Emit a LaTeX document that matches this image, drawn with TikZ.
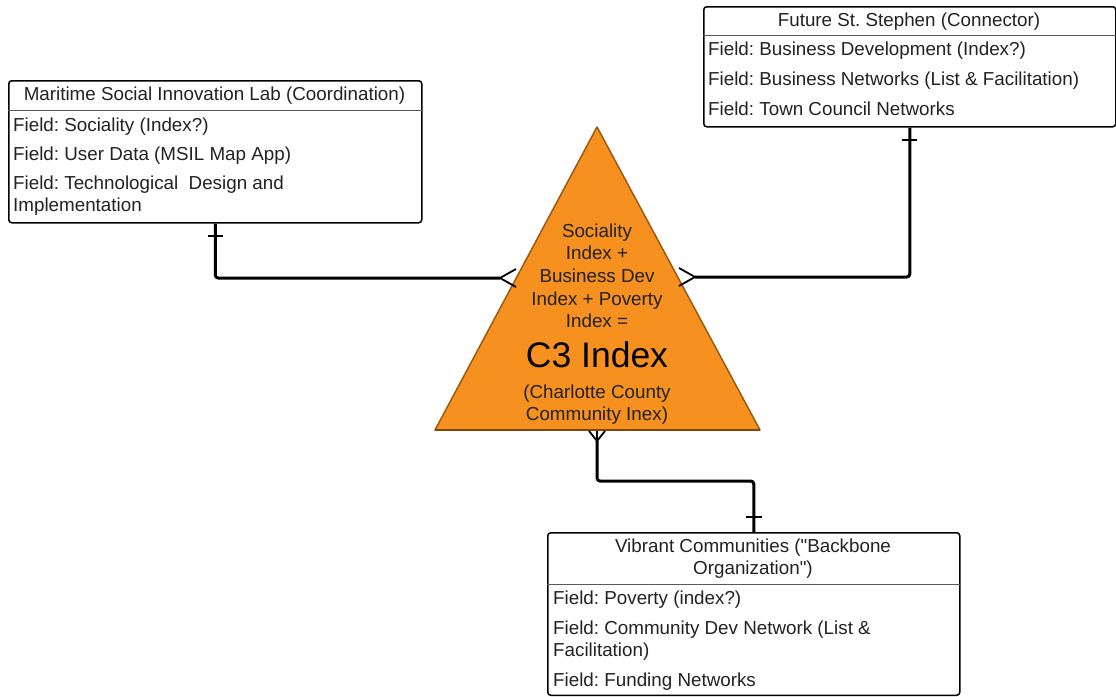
\documentclass[tikz,border=0pt]{standalone}
\usepackage{fontspec}
\setmainfont[Ligatures=TeXOff]{Liberation Sans}
\definecolor{triorange}{HTML}{F6901E}
\definecolor{triedge}{HTML}{9C5A12}
\definecolor{txt}{HTML}{222222}
\begin{document}
\frenchspacing
\begin{tikzpicture}[x=1pt,y=-1pt]
\tikzset{
 ent/.style={draw=black, line width=1.5pt, rounded corners=3pt, fill=white, inner sep=0pt},
 sep/.style={draw=black!65, line width=0.8pt},
 fld/.style={anchor=base west, inner sep=0pt, font=\fontsize{18.8}{23}\selectfont, text=txt},
 ttl/.style={anchor=base, inner sep=0pt, font=\fontsize{18.8}{23}\selectfont, text=txt},
 tritxt/.style={anchor=base, inner sep=0pt, font=\fontsize{18.8}{23}\selectfont, text=txt},
 conn/.style={line width=3pt, rounded corners=3pt},
 tickmark/.style={line width=2pt},
 crow/.style={line width=1.8pt},
}
\useasboundingbox (0,0) rectangle (1116,696);
\fill[white] (0,0) rectangle (1116,696);

% ---- Maritime Social Innovation Lab box
\node[ent, anchor=north west, minimum width=413pt, minimum height=142pt] (msil) at (8,80) {};
\draw[sep] (msil.west |- 0,110) -- (msil.east |- 0,110);
\node[ttl] (msilt) at (214.5,100.7) {Maritime Social Innovation Lab (Coordination)};
\node[fld] (msil1) at (13,131) {Field: Sociality (Index?)};
\node[fld] (msil2) at (13,160) {Field: User Data (MSIL Map App)};
\node[fld] (msil3) at (13,189) {Field: Technological\ \ Design and};
\node[fld] (msil4) at (13,211) {Implementation};

% ---- Future St. Stephen box
\node[ent, anchor=north west, minimum width=412pt, minimum height=120pt] (fss) at (703,6) {};
\draw[sep] (fss.west |- 0,35) -- (fss.east |- 0,35);
\node[ttl] (fsst) at (909,27) {Future St. Stephen (Connector)};
\node[fld] (fss1) at (708,55) {Field: Business Development (Index?)};
\node[fld] (fss2) at (708,85) {Field: Business Networks (List \& Facilitation)};
\node[fld] (fss3) at (708,115) {Field: Town Council Networks};

% ---- Vibrant Communities box
\node[ent, anchor=north west, minimum width=412pt, minimum height=162.5pt] (vc) at (547,532) {};
\draw[sep] (vc.west |- 0,584) -- (vc.east |- 0,584);
\node[ttl] (vct1) at (753,552) {Vibrant Communities ("Backbone};
\node[ttl] (vct2) at (753,574) {Organization")};
\node[fld] (vc1) at (553,604) {Field: Poverty (index?)};
\node[fld] (vc2) at (553,634) {Field: Community Dev Network (List \&};
\node[fld] (vc3) at (553,656) {Facilitation)};
\node[fld] (vc4) at (553,686) {Field: Funding Networks};

% ---- Triangle
\coordinate (apex) at (597,127);
\coordinate (bl) at (435,430);
\coordinate (br) at (760,430);
\fill[triorange, draw=triedge, line width=1.5pt, line join=round] (apex) -- (br) -- (bl) -- cycle;
\draw[triedge!80!black, line width=2pt] (bl) -- (br);

\node[tritxt] (t1) at (597,237) {Sociality};
\node[tritxt] (t2) at (597,259) {Index +};
\node[tritxt] (t3) at (597,282) {Business Dev};
\node[tritxt] (t4) at (597,305) {Index + Poverty};
\node[tritxt] (t5) at (597,327) {Index =};
\node[tritxt, font=\fontsize{35.5}{40}\selectfont, text=black] (t6) at (597,367) {C3 Index};
\node[tritxt] (t7) at (597,398) {(Charlotte County};
\node[tritxt] (t8) at (597,420) {Community Inex)};

% ---- crow's feet end points
\coordinate (cl) at (500,278);
\coordinate (cr) at (695,277);
\coordinate (cb) at (597,441);

% ---- connectors
\draw[conn] (msil.south) -- (msil.south |- cl) -- (cl);
\draw[conn] (fss.south) -- (fss.south |- cr) -- (cr);
\draw[conn] (cb) -- (597,481) -- (vc.north |- 0,481) -- (vc.north);

% ---- one ticks
\draw[tickmark] ([xshift=-7.5pt]msil.south |- 0,236) -- ([xshift=7.5pt]msil.south |- 0,236);
\draw[tickmark] ([xshift=-7.5pt]fss.south |- 0,140) -- ([xshift=7.5pt]fss.south |- 0,140);
\draw[tickmark] ([xshift=-8pt]vc.north |- 0,517) -- ([xshift=8pt]vc.north |- 0,517);

% ---- many (crow's feet)
\draw[crow] (516,269) -- (cl) -- (516,287);
\draw[crow] (679,268) -- (cr) -- (679,286);
\draw[crow] (589,431) -- (cb) -- (605,431);
\draw[crow] (cb) -- (597,431);
\end{tikzpicture}
\end{document}
